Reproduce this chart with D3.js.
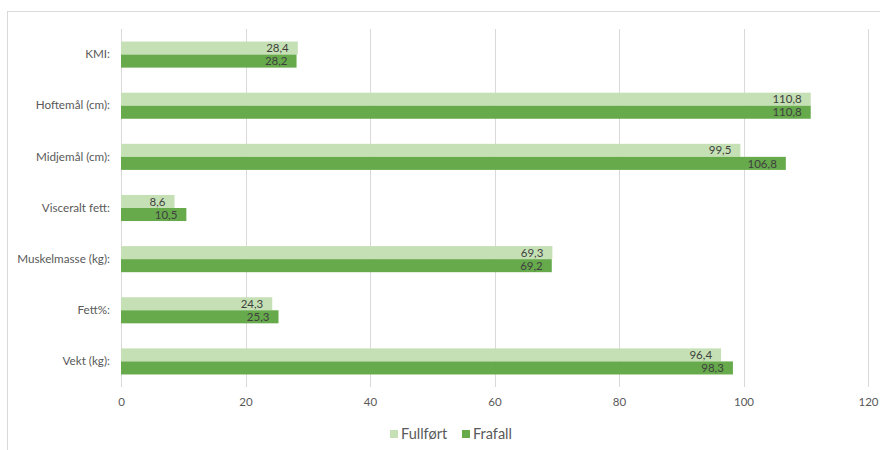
<!DOCTYPE html>
<html>
<head>
<meta charset="utf-8">
<script src="https://cdn.jsdelivr.net/npm/d3@7"></script>
<style>
  html, body { margin: 0; padding: 0; background: #fff; }
  svg { display: block; font-family: Lato, "Open Sans", sans-serif; }
</style>
</head>
<body>
<svg id="chart" width="880" height="450"></svg>
<script>
// Body measurements: completed vs. dropped out
const categories = ["KMI:", "Hoftemål (cm):", "Midjemål (cm):", "Visceralt fett:", "Muskelmasse (kg):", "Fett%:", "Vekt (kg):"];
const fullfort = [28.4, 110.8, 99.5, 8.6, 69.3, 24.3, 96.4];
const frafall = [28.2, 110.8, 106.8, 10.5, 69.2, 25.3, 98.3];
const seriesNames = ["Fullført", "Frafall"];
const seriesColors = ["#c5e0b4", "#66aa4c"];
const xTicks = [0, 20, 40, 60, 80, 100, 120];

const svg = d3.select("#chart");

// chart frame
svg.append("rect")
  .attr("x", 7.5).attr("y", 11.5)
  .attr("width", 900).attr("height", 500)
  .attr("fill", "none").attr("stroke", "#d9d9d9");

const x = d3.scaleLinear().domain([0, 120]).range([121, 868]);
const y = d3.scaleBand().domain(categories).range([29, 387])
  .paddingInner(0.49).paddingOuter(0.245);
const ySub = d3.scaleBand().domain(seriesNames).range([0, y.bandwidth()]);

// vertical gridlines
svg.append("g").selectAll("line").data(xTicks).join("line")
  .attr("x1", d => Math.round(x(d)) + 0.5).attr("x2", d => Math.round(x(d)) + 0.5)
  .attr("y1", 29).attr("y2", 387)
  .attr("stroke", "#d9d9d9").attr("stroke-width", 1);

// x axis tick labels
const xAxis = svg.append("g").attr("transform", "translate(0,387)")
  .call(d3.axisBottom(x).tickValues(xTicks).tickSize(0).tickPadding(11).tickFormat(d3.format("d")));
xAxis.select(".domain").remove();
xAxis.selectAll("text").attr("fill", "#595959").attr("font-size", 11.5)
  .attr("font-family", "Lato, 'Open Sans', sans-serif");

// y axis category labels
const yAxis = svg.append("g").attr("transform", "translate(121,0)")
  .call(d3.axisLeft(y).tickSize(0).tickPadding(11));
yAxis.select(".domain").remove();
yAxis.selectAll("text").attr("fill", "#595959").attr("font-size", 11.7)
  .attr("font-family", "Lato, 'Open Sans', sans-serif");

const rows = categories.map((c, i) => ({ c, vals: [fullfort[i], frafall[i]] }));

const groups = svg.append("g").selectAll("g").data(rows).join("g")
  .attr("transform", d => `translate(0,${y(d.c)})`);

groups.selectAll("rect").data(d => d.vals.map((v, j) => ({ v, s: seriesNames[j], j }))).join("rect")
  .attr("x", x(0))
  .attr("y", d => ySub(d.s))
  .attr("width", d => x(d.v) - x(0))
  .attr("height", ySub.bandwidth())
  .attr("fill", d => seriesColors[d.j]);

const fmt = v => d3.format(".1f")(v).replace(".", ",");
groups.selectAll("text.val").data(d => d.vals.map((v, j) => ({ v, s: seriesNames[j], j }))).join("text")
  .attr("class", "val")
  .attr("x", d => x(d.v) - 9)
  .attr("y", d => ySub(d.s) + ySub.bandwidth() / 2)
  .attr("dy", "0.36em")
  .attr("text-anchor", "end")
  .attr("font-size", 11.5)
  .attr("fill", "#404040")
  .text(d => fmt(d.v));

// legend
const legend = svg.append("g").attr("transform", "translate(390,434)");
const legendX = [0, 72];
seriesNames.forEach((name, i) => {
  const g = legend.append("g").attr("transform", `translate(${legendX[i]},0)`);
  g.append("rect").attr("x", 0).attr("y", -4).attr("width", 8).attr("height", 8).attr("fill", seriesColors[i]);
  g.append("text").attr("x", 11).attr("y", 0).attr("dy", "0.36em")
    .attr("font-size", 14.5).attr("fill", "#595959").text(name);
});
</script>
</body>
</html>
